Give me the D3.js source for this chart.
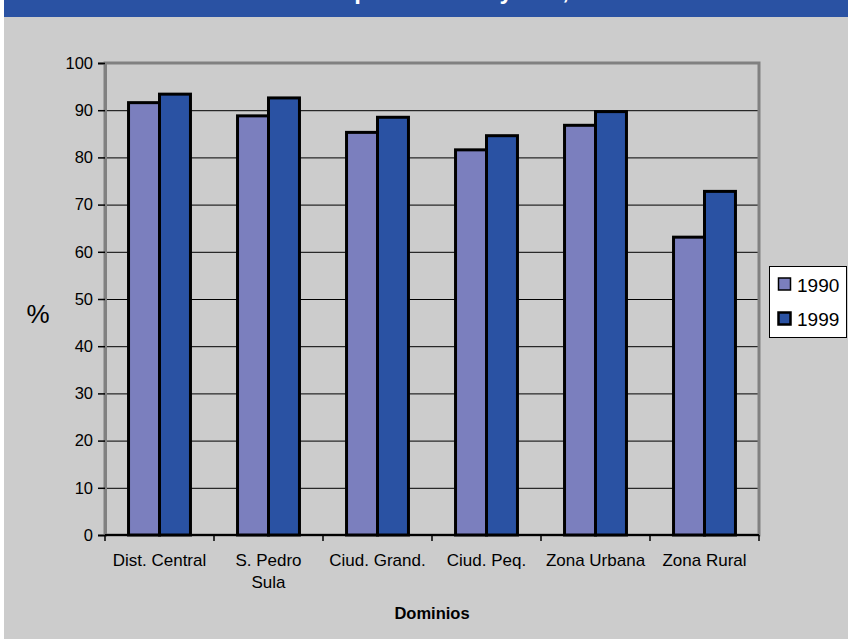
<!DOCTYPE html>
<html>
<head>
<meta charset="utf-8">
<script src="https://cdn.jsdelivr.net/npm/d3@7/dist/d3.min.js"></script>
<style>
  html, body { margin: 0; padding: 0; background: #ffffff; }
  svg { display: block; font-family: Arial, "Liberation Sans", sans-serif; }
</style>
</head>
<body>
<svg id="chart" width="848" height="639"></svg>
<script>
// Dominios y porcentajes por año
const categories = ["Dist. Central", "S. Pedro Sula", "Ciud. Grand.", "Ciud. Peq.", "Zona Urbana", "Zona Rural"];
const categoryLines = [["Dist. Central"], ["S. Pedro", "Sula"], ["Ciud. Grand."], ["Ciud. Peq."], ["Zona Urbana"], ["Zona Rural"]];
const years = ["1990", "1999"];
const values1990 = [91.6, 88.8, 85.3, 81.6, 86.8, 63.1];
const values1999 = [93.4, 92.6, 88.5, 84.6, 89.7, 72.8];
const yTicks = [0, 10, 20, 30, 40, 50, 60, 70, 80, 90, 100];
const colors = { "1990": "#7b7fbe", "1999": "#2a52a3" };
const titleText = "Tasa de alfabetismo por dominio y año, 1990–1999";

const svg = d3.select("#chart");
const W = 848, H = 639;
const FONT = "Arial, 'Liberation Sans', sans-serif";

// page background: gray panel with a blue header band
svg.append("rect").attr("x", 4).attr("y", 0).attr("width", W - 4).attr("height", H).attr("fill", "#cccccc");
svg.append("rect").attr("x", 4).attr("y", 0).attr("width", W - 4).attr("height", 17).attr("fill", "#2a52a3");
svg.append("text")
  .attr("x", 120).attr("y", -1)
  .attr("fill", "#ffffff")
  .attr("font-size", 24).attr("font-weight", "bold")
  .text(titleText);

const plot = { left: 105, right: 759, top: 63, bottom: 535 };

const x0 = d3.scaleBand().domain(categories).range([plot.left, plot.right]).paddingInner(0).paddingOuter(0);
const x1 = d3.scaleBand().domain(years).range([0, x0.bandwidth()]).paddingInner(0).paddingOuter(0.76);
const y = d3.scaleLinear().domain([0, 100]).range([plot.bottom, plot.top]);

// gridlines
svg.append("g").selectAll("line")
  .data(yTicks.filter(t => t > 0 && t < 100))
  .join("line")
  .attr("x1", plot.left).attr("x2", plot.right)
  .attr("y1", d => y(d) + 0.5).attr("y2", d => y(d) + 0.5)
  .attr("stroke", "#000000").attr("stroke-width", 1);

// plot frame
svg.append("rect")
  .attr("x", plot.left).attr("y", plot.top)
  .attr("width", plot.right - plot.left).attr("height", plot.bottom - plot.top)
  .attr("fill", "none").attr("stroke", "#808080").attr("stroke-width", 3);

// bars
const rows = categories.map((c, i) => ({ cat: c, vals: [
  { year: "1990", v: values1990[i] },
  { year: "1999", v: values1999[i] }
]}));

svg.append("g").selectAll("g")
  .data(rows)
  .join("g")
  .attr("transform", d => `translate(${x0(d.cat)},0)`)
  .selectAll("rect")
  .data(d => d.vals)
  .join("rect")
  .attr("x", d => x1(d.year))
  .attr("y", d => y(d.v))
  .attr("width", x1.bandwidth())
  .attr("height", d => y(0) - y(d.v))
  .attr("fill", d => colors[d.year])
  .attr("stroke", "#000000").attr("stroke-width", 3);

// y axis
const yAxis = d3.axisLeft(y).tickValues(yTicks).tickSize(7).tickPadding(5).tickFormat(d3.format("d"));
const gy = svg.append("g").attr("transform", `translate(${plot.left},0)`).call(yAxis)
  .attr("font-size", 16.5).attr("font-family", FONT);
gy.select(".domain").attr("stroke", "#808080").attr("stroke-width", 3);
gy.selectAll(".tick line").attr("stroke", "#000000").attr("stroke-width", 1.5);
gy.selectAll(".tick text").attr("fill", "#000000");

// x axis: baseline and boundary ticks
svg.append("line")
  .attr("x1", plot.left).attr("x2", plot.right)
  .attr("y1", plot.bottom).attr("y2", plot.bottom)
  .attr("stroke", "#000000").attr("stroke-width", 2);
const bounds = categories.map(c => x0(c)).concat([plot.right]);
svg.append("g").selectAll("line")
  .data(bounds)
  .join("line")
  .attr("x1", d => d).attr("x2", d => d)
  .attr("y1", plot.bottom).attr("y2", plot.bottom + 6)
  .attr("stroke", "#000000").attr("stroke-width", 1.5);

// category labels
const labels = svg.append("g").selectAll("text")
  .data(categories.map((c, i) => ({ cat: c, lines: categoryLines[i] })))
  .join("text")
  .attr("text-anchor", "middle")
  .attr("font-size", 17)
  .attr("fill", "#000000");
labels.selectAll("tspan")
  .data(d => d.lines.map(l => ({ l, cx: x0(d.cat) + x0.bandwidth() / 2 })))
  .join("tspan")
  .attr("x", d => d.cx)
  .attr("y", (d, i) => 566 + i * 22)
  .text(d => d.l);

// axis titles
svg.append("text").attr("x", 38).attr("y", 323).attr("text-anchor", "middle")
  .attr("font-size", 26).attr("fill", "#000000").text("%");
svg.append("text").attr("x", 432).attr("y", 619).attr("text-anchor", "middle")
  .attr("font-size", 16.5).attr("font-weight", "bold").attr("fill", "#000000").text("Dominios");

// legend
const lg = svg.append("g");
lg.append("rect").attr("x", 769.5).attr("y", 266.5).attr("width", 77).attr("height", 71)
  .attr("fill", "#ffffff").attr("stroke", "#000000").attr("stroke-width", 1);
years.forEach((yr, i) => {
  lg.append("rect")
    .attr("x", 778.5).attr("y", 278 + i * 34.5).attr("width", 12).attr("height", 12)
    .attr("fill", colors[yr]).attr("stroke", "#000000").attr("stroke-width", yr === "1999" ? 2.5 : 1.5);
  lg.append("text")
    .attr("x", 797).attr("y", 291.5 + i * 34.5)
    .attr("font-size", 19).attr("fill", "#000000").text(yr);
});
</script>
</body>
</html>
